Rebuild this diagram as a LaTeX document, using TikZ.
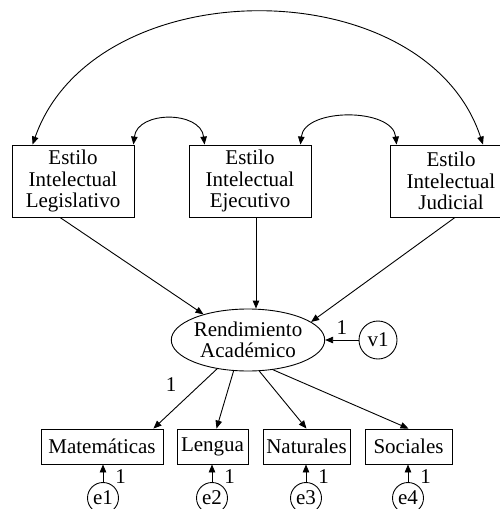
\documentclass[tikz,border=0pt]{standalone}
\usepackage{fontspec}
\setmainfont{Liberation Serif}
\usetikzlibrary{arrows.meta,positioning,shapes.geometric}

\begin{document}
\begin{tikzpicture}[
  x=1pt, y=-1pt,
  font=\fontsize{21}{21.5}\selectfont,
  line width=0.9pt,
  stylebox/.style={draw, minimum width=122pt, minimum height=72pt, align=center, inner sep=0pt},
  measbox/.style={draw, minimum height=35pt, inner sep=0pt},
  latent/.style={draw, ellipse, minimum width=149pt, minimum height=62pt, align=center, inner sep=0pt},
  errc/.style={draw, circle, minimum size=31pt, inner sep=0pt},
  lbl/.style={inner sep=2pt},
  arr/.style={-{Triangle[length=8pt,width=6.5pt]}},
  biarr/.style={{Triangle[length=8pt,width=6.5pt]}-{Triangle[length=8pt,width=6.5pt]}}
]
  \useasboundingbox (0,0) rectangle (500,509);
  \clip (0,0) rectangle (500,509);

  % estilos intelectuales
  \node[stylebox] (leg) at (73,181) {Estilo\\Intelectual\\Legislativo};
  \node[stylebox] (eje) at (250,181) {Estilo\\Intelectual\\Ejecutivo};
  \node[stylebox] (jud) at (451,181) {Estilo\\Intelectual\\Judicial};

  % rendimiento
  \node[latent] (rend) at (248,340) {Rendimiento\\Académico};
  \node[errc, minimum size=38pt] (v1) at (378,340) {v1};

  % indicadores
  \node[measbox, minimum width=122pt] (mat) at (102,446.5) {Matemáticas};
  \node[measbox, minimum width=71pt] (len) at (212.5,446.5) {Lengua};
  \node[measbox, minimum width=87pt] (nat) at (306.5,446.5) {Naturales};
  \node[measbox, minimum width=87pt] (soc) at (408.5,446.5) {Sociales};

  \node[errc] (e1) at (103,498) {e1};
  \node[errc] (e2) at (212,498) {e2};
  \node[errc] (e3) at (306,498) {e3};
  \node[errc] (e4) at (408,498) {e4};

  % covarianzas
  \draw[biarr] ([xshift=21pt]leg.north west) .. controls +(62,-176) and +(-58,-176) .. ([xshift=32pt]jud.north);
  \draw[biarr] ([xshift=-1pt]leg.north east) .. controls +(4,-34) and +(-4,-34) .. ([xshift=16pt]eje.north west);
  \draw[biarr] ([xshift=-11pt]eje.north east) .. controls +(4,-37) and +(-4,-37) .. ([xshift=7pt]jud.north west);

  % regresiones
  \draw[arr] ([xshift=-13pt]leg.south) -- (rend.150);
  \draw[arr] ([xshift=6pt]eje.south) -- ([xshift=8pt]rend.north);
  \draw[arr] ([xshift=4pt]jud.south) -- (rend.16);
  \draw[arr] (v1) -- node[lbl, above=3pt] {1} (rend);

  \draw[arr] (rend.223) -- node[lbl, pos=.27, left=21pt] {1} ([xshift=-10pt]mat.north east);
  \draw[arr] (rend.245) -- ([xshift=4pt]len.north);
  \draw[arr] (rend.290) -- (nat.north);
  \draw[arr] (rend.310) -- (soc.north);

  \draw[arr] (e1) -- node[lbl, pos=.3, right=10pt] {1} (e1 |- mat.south);
  \draw[arr] (e2) -- node[lbl, pos=.3, right=10pt] {1} (e2 |- len.south);
  \draw[arr] (e3) -- node[lbl, pos=.3, right=10pt] {1} (e3 |- nat.south);
  \draw[arr] (e4) -- node[lbl, pos=.3, right=10pt] {1} (e4 |- soc.south);
\end{tikzpicture}
\end{document}
